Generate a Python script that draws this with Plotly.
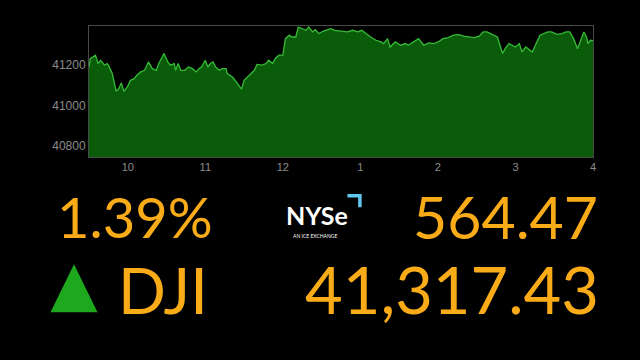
import plotly.graph_objects as go

# Minutes after 9:30 open, and DJI level
minutes = [0, 1, 5, 7, 9, 12, 14, 15, 18, 19, 21, 23, 25, 27, 30, 32, 35, 37, 40, 43,
           46, 49, 52, 54, 58, 61, 63, 66, 67, 69, 71, 74, 77, 80, 83, 85, 87, 90, 92, 94,
           96, 98, 101, 103, 106, 107, 111, 115, 118, 120, 124, 128, 130, 134, 137, 139, 142, 144, 147, 150,
           152, 155, 157, 160, 162, 165, 168, 170, 173, 175, 178, 181, 187, 190, 195, 200, 204, 208, 211, 214,
           218, 222, 226, 228, 231, 233, 237, 241, 245, 247, 251, 255, 259, 263, 267, 271, 274, 278, 282, 286,
           290, 294, 298, 302, 305, 308, 312, 316, 320, 322, 325, 327, 330, 333, 335, 338, 340, 343, 346, 349,
           355, 358, 362, 366, 369, 372, 375, 378, 380, 383, 385, 386, 388, 390]
values = [41188, 41229, 41246, 41205, 41221, 41197, 41205, 41197, 41156, 41131, 41069, 41082, 41110, 41069, 41094, 41123, 41131, 41148, 41164, 41172,
          41213, 41180, 41172, 41205, 41254, 41213, 41197, 41205, 41172, 41205, 41172, 41172, 41188, 41180, 41164, 41180, 41188, 41221, 41188, 41205,
          41213, 41188, 41172, 41180, 41180, 41156, 41139, 41107, 41079, 41123, 41148, 41172, 41201, 41197, 41205, 41221, 41205, 41229, 41246, 41246,
          41327, 41344, 41335, 41335, 41384, 41376, 41368, 41384, 41360, 41371, 41352, 41363, 41376, 41368, 41365, 41360, 41368, 41360, 41368, 41352,
          41335, 41319, 41311, 41303, 41327, 41286, 41311, 41295, 41303, 41295, 41311, 41327, 41295, 41306, 41303, 41314, 41327, 41332, 41344, 41347,
          41339, 41335, 41332, 41339, 41360, 41360, 41348, 41335, 41254, 41278, 41303, 41295, 41286, 41303, 41262, 41286, 41278, 41262, 41303, 41344,
          41360, 41360, 41348, 41352, 41360, 41360, 41327, 41278, 41311, 41360, 41335, 41303, 41319, 41317.43]

hour_ticks = [10, 11, 12, 13, 14, 15, 16]
hour_labels = ["10", "11", "12", "1", "2", "3", "4"]
y_ticks = [40800, 41000, 41200]

pct_change = "1.39%"
point_change = "564.47"
index_name = "DJI"
index_level = "41,317.43"

hours = [9.5 + m / 60 for m in minutes]

W, H = 640, 360
L, R, T, B = 88.5, 592.7, 25.7, 156.7


def px(x):
    return (x - L) / (R - L)


def py(y):
    return (B - y) / (B - T)


fig = go.Figure()
fig.add_trace(go.Scatter(
    x=hours, y=values, mode="lines", fill="tozeroy",
    line=dict(color="#36bb36", width=1.3),
    fillcolor="#0a5c0a", hoverinfo="skip", showlegend=False,
))

orange = "#f9ab18"
big = "Lato, 'Liberation Sans', sans-serif"

annotations = [
    dict(text=pct_change, x=px(54), y=py(216), xanchor="left", yanchor="middle",
         font=dict(size=56, color=orange, family=big)),
    dict(text=point_change, x=px(600), y=py(216), xanchor="right", yanchor="middle",
         font=dict(size=59, color=orange, family=big)),
    dict(text=index_name, x=px(116), y=py(289), xanchor="left", yanchor="middle",
         font=dict(size=63, color=orange, family=big)),
    dict(text=index_level, x=px(601), y=py(289), xanchor="right", yanchor="middle",
         font=dict(size=65, color=orange, family=big)),
    dict(text="<b>NYSe</b>", x=px(284), y=py(215), xanchor="left", yanchor="middle",
         font=dict(size=25, color="white", family="Lato, sans-serif")),
    dict(text="AN ICE EXCHANGE", x=px(315), y=py(236), xanchor="center", yanchor="middle",
         font=dict(size=5, color="white", family="Lato, sans-serif")),
]
for a in annotations:
    a.update(xref="paper", yref="paper", showarrow=False)

shapes = [
    # green up triangle
    dict(type="path", xref="paper", yref="paper",
         path=f"M {px(50)} {py(312)} L {px(97)} {py(312)} L {px(73.5)} {py(264)} Z",
         fillcolor="#1ea81e", line=dict(width=0)),
    # NYSE corner bracket
    dict(type="path", xref="paper", yref="paper",
         path=f"M {px(347)} {py(195.5)} L {px(359.5)} {py(195.5)} L {px(359.5)} {py(207)}",
         line=dict(color="#62c6ee", width=3.5)),
]

fig.update_layout(
    width=W, height=H,
    margin=dict(l=L, r=W - R, t=T, b=H - B, pad=0),
    paper_bgcolor="black", plot_bgcolor="black",
    xaxis=dict(range=[9.5, 16], tickvals=hour_ticks, ticktext=hour_labels,
               showgrid=False, zeroline=False, showline=True, mirror=True,
               linecolor="#4a4a4a", linewidth=1, ticks="",
               tickfont=dict(size=11, color="#8c8c8c", family="Liberation Sans, sans-serif")),
    yaxis=dict(range=[40747, 41389], tickvals=y_ticks, tickformat="d",
               showgrid=False, zeroline=False, showline=True, mirror=True,
               linecolor="#4a4a4a", linewidth=1, ticks="",
               tickfont=dict(size=12, color="#8c8c8c", family="Liberation Sans, sans-serif")),
    annotations=annotations, shapes=shapes,
    showlegend=False,
)

fig.write_html(
    "out.html",
    config={"displayModeBar": False},
    post_script="document.body.style.margin='0';document.body.style.background='black';",
)
